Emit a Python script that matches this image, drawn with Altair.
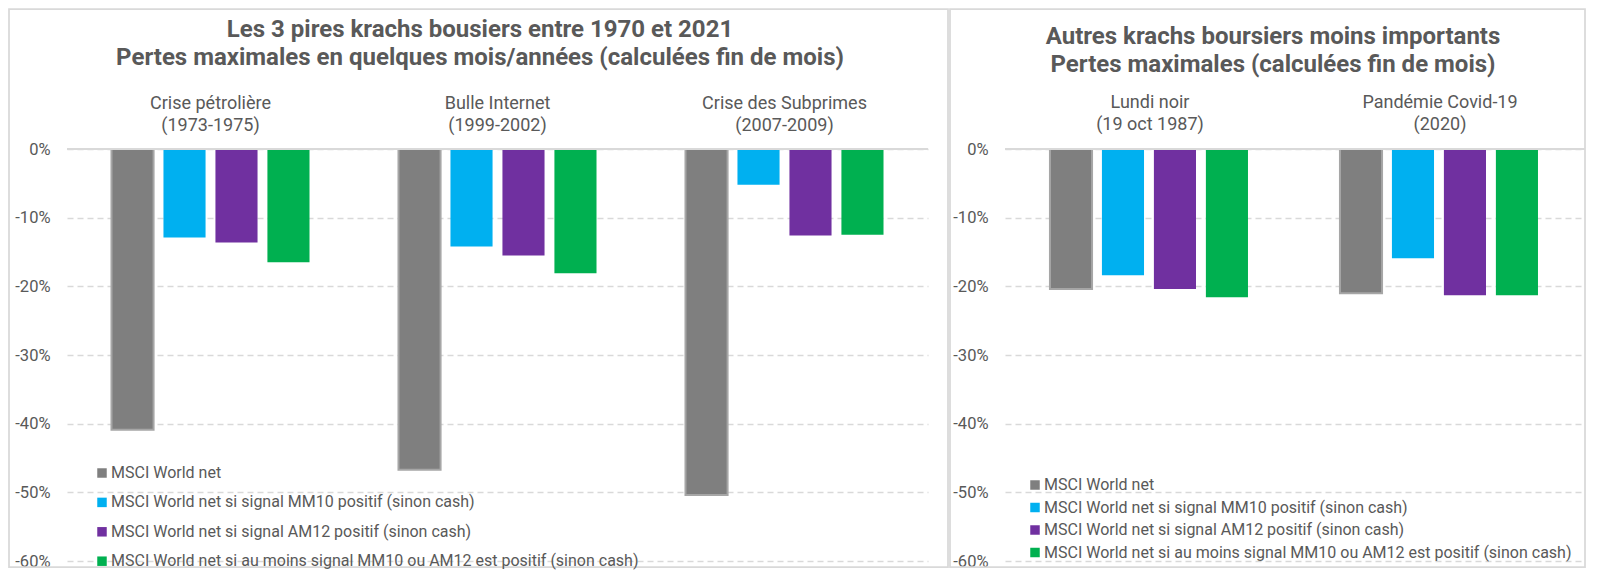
import altair as alt
import pandas as pd

FONT = "Roboto"
TXT = "#595959"
GRID = "#d9d9d9"

series = [
    "MSCI World net",
    "MSCI World net si signal MM10 positif (sinon cash)",
    "MSCI World net si signal AM12 positif (sinon cash)",
    "MSCI World net si au moins signal MM10 ou AM12 est positif (sinon cash)",
]
colors = ["#7f7f7f", "#00b0f0", "#7030a0", "#00b050"]

left_crashes = ["Crise pétrolière|(1973-1975)", "Bulle Internet|(1999-2002)", "Crise des Subprimes|(2007-2009)"]
left_msci = [-0.409, -0.467, -0.504]
left_mm10 = [-0.129, -0.142, -0.052]
left_am12 = [-0.136, -0.155, -0.126]
left_both = [-0.165, -0.181, -0.125]

right_crashes = ["Lundi noir|(19 oct 1987)", "Pandémie Covid-19|(2020)"]
right_msci = [-0.204, -0.210]
right_mm10 = [-0.184, -0.159]
right_am12 = [-0.204, -0.213]
right_both = [-0.216, -0.213]

left_title = ["Les 3 pires krachs bousiers entre 1970 et 2021",
              "Pertes maximales en quelques mois/années (calculées fin de mois)"]
right_title = ["Autres krachs boursiers moins importants",
               "Pertes maximales (calculées fin de mois)"]

y_ticks = [0, -0.1, -0.2, -0.3, -0.4, -0.5, -0.6]

PLOT_H = 412


def make_df(crashes, cols):
    rows = []
    for s, vals in zip(series, cols):
        for c, v in zip(crashes, vals):
            rows.append({"crash": c, "series": s, "value": v})
    return pd.DataFrame(rows)


def panel(crashes, cols, title, width, bx1, bx2, tx, ty, label_pad, lx, ly, row_pad):
    df = make_df(crashes, cols)
    one = pd.DataFrame({"a": [0]})

    border = alt.Chart(one).mark_rect(fillOpacity=0, stroke=GRID, strokeWidth=1.75).encode(
        x=alt.value(bx1), x2=alt.value(bx2), y=alt.value(-140), y2=alt.value(418)
    )

    bars = alt.Chart(df).mark_bar(strokeWidth=2).encode(
        x=alt.X(
            "crash:N", sort=crashes, title=None,
            scale=alt.Scale(paddingInner=0.31, paddingOuter=0.155),
            axis=alt.Axis(orient="top", labelAngle=0, labelExpr="split(datum.label, '|')",
                          labelFontSize=18, labelLineHeight=22, labelColor=TXT, labelFont=FONT,
                          labelPadding=label_pad, domain=False, ticks=False, labelLimit=500),
        ),
        xOffset=alt.XOffset("series:N", sort=series, scale=alt.Scale(paddingInner=0.19, paddingOuter=0)),
        y=alt.Y(
            "value:Q", title=None,
            scale=alt.Scale(domain=[-0.6, 0], nice=False),
            axis=alt.Axis(values=y_ticks, labelExpr="round(datum.value*100) + '%'",
                          labelFontSize=16.5, labelColor=TXT, labelFont=FONT, labelPadding=17,
                          domain=False, ticks=False, tickSize=0, grid=True, gridDash=[6, 4],
                          gridColor=GRID, gridWidth=1.3),
        ),
        color=alt.Color(
            "series:N", sort=series,
            scale=alt.Scale(domain=series, range=colors),
            legend=alt.Legend(title=None, orient="none", legendX=lx, legendY=ly, direction="vertical",
                              symbolType="square", symbolSize=90, labelFontSize=16, labelFont=FONT,
                              labelColor=TXT, rowPadding=row_pad, labelLimit=800, padding=0,
                              labelOffset=1, symbolStrokeWidth=0),
        ),
        stroke=alt.condition(alt.datum.series == series[0], alt.value("#a6a6a6"), alt.value("transparent")),
    )

    zero = alt.Chart(one).mark_rule(color=GRID, strokeWidth=2).encode(y=alt.datum(0))

    ttl = alt.Chart(one).mark_text(
        text=title, font=FONT, fontSize=24, fontWeight="bold", color=TXT,
        align="center", baseline="alphabetic", lineHeight=28,
    ).encode(x=alt.value(tx), y=alt.value(ty))

    return alt.layer(border, bars, zero, ttl).properties(width=width, height=PLOT_H)


left = panel(left_crashes, [left_msci, left_mm10, left_am12, left_both], left_title,
             861, -58, 881, 413, -112, 36.5, 27, 316, 13.4)
right = panel(right_crashes, [right_msci, right_mm10, right_am12, right_both], right_title,
              580, -55, 580, 268, -105, 38, 22, 328, 6.5)

chart = alt.hconcat(left, right, spacing=0).resolve_scale(
    color="independent", x="independent", y="independent"
).properties(padding=0).configure_view(strokeWidth=0)

chart.save("out.html", embed_options={"renderer": "svg", "actions": False})
